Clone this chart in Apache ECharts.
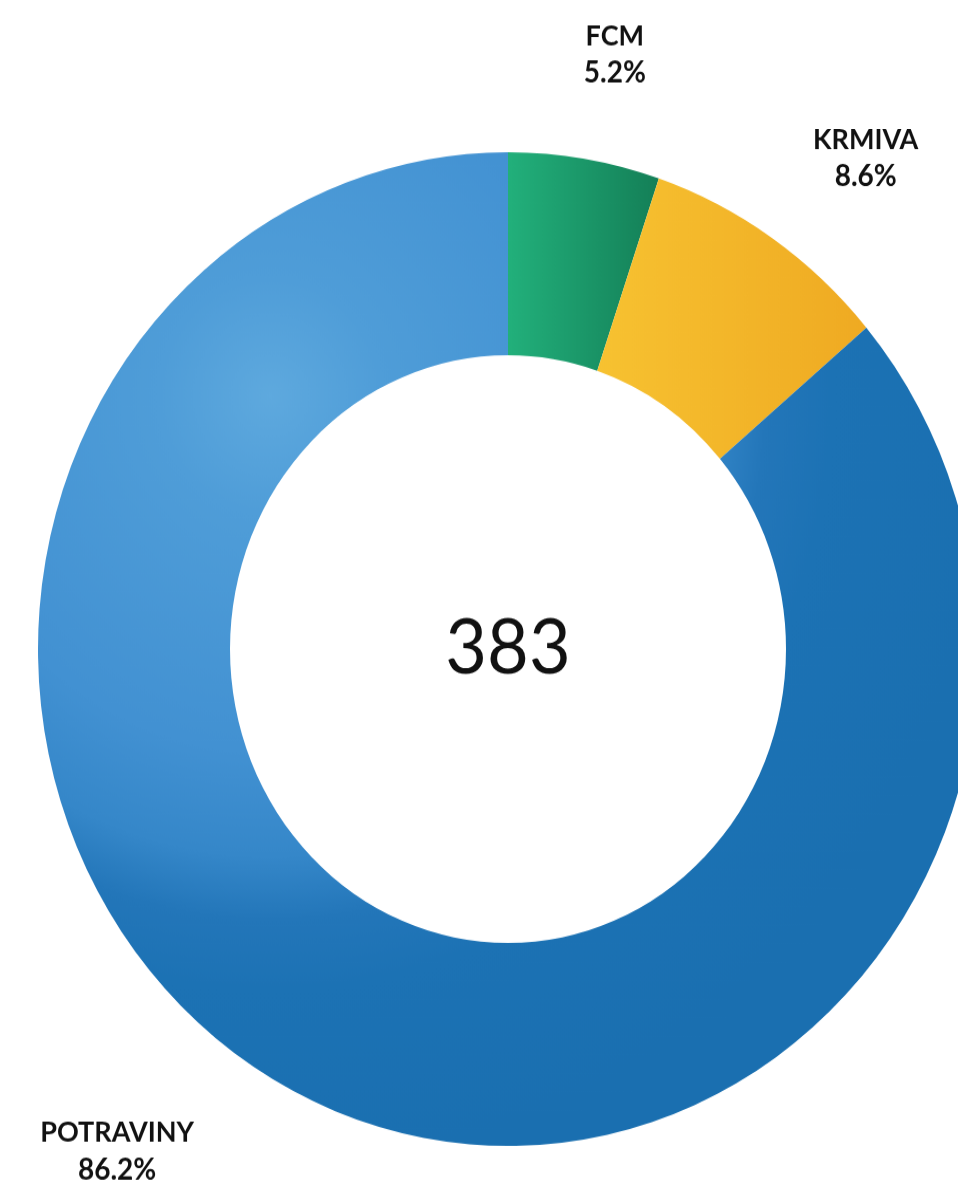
<!DOCTYPE html>
<html>
<head>
<meta charset="utf-8">
<script src="https://cdn.jsdelivr.net/npm/echarts@6/dist/echarts.min.js"></script>
<style>
  html, body { margin: 0; padding: 0; background: #ffffff; width: 958px; height: 1184px; overflow: hidden; }
  #wrap { width: 958px; height: 1184px; overflow: hidden; position: relative; }
  #chart { position: absolute; left: 0; top: 0; width: 958px; height: 1120px; transform: scaleY(1.0571); transform-origin: 0 0; }
</style>
</head>
<body>
<div id="wrap"><div id="chart"></div></div>
<script>
// ---- data ----
const categories = ['FCM', 'KRMIVA', 'POTRAVINY'];
const shares = [5.2, 8.6, 86.2];          // percent of total
const totalCount = 383;

// ---- styles (kept apart from data) ----
const sliceFills = {
  FCM: { type: 'linear', x: 0, y: 0, x2: 1, y2: 0, colorStops: [
    { offset: 0, color: '#22b07b' }, { offset: 1, color: '#147f57' } ] },
  KRMIVA: { type: 'linear', x: 0, y: 0, x2: 1, y2: 0, colorStops: [
    { offset: 0, color: '#f7c231' }, { offset: 1, color: '#efaa22' } ] },
  POTRAVINY: { type: 'radial', x: 0.247, y: 0.245, r: 0.8, colorStops: [
    { offset: 0, color: '#5ea9de' }, { offset: 0.15, color: '#4f9dd8' },
    { offset: 0.45, color: '#4291d2' }, { offset: 0.58, color: '#3587c9' },
    { offset: 0.66, color: '#2376b9' }, { offset: 0.75, color: '#1c72b4' },
    { offset: 1, color: '#1a6fb0' } ] }
};
const labelNudge = { FCM: [12, 13], KRMIVA: [30, 18], POTRAVINY: [-146, -54] };

const chart = echarts.init(document.getElementById('chart'), null, { renderer: 'canvas' });

const ringData = categories.map((c, i) => ({
  name: c, value: shares[i], itemStyle: { color: sliceFills[c] }
}));
const labelData = categories.map((c, i) => ({ name: c, value: shares[i] }));

const labelFont = { fontFamily: 'Lato', fontWeight: 'bold', fontSize: 27, color: '#111111', lineHeight: 35, align: 'center' };

chart.setOption({
  backgroundColor: '#ffffff',
  animation: false,
  series: [
    {
      type: 'pie',
      center: [508, 614],
      radius: [278, 470],
      startAngle: 90,
      clockwise: true,
      silent: true,
      label: { show: false },
      labelLine: { show: false },
      itemStyle: { borderWidth: 0 },
      data: ringData
    },
    {
      type: 'pie',
      center: [508, 614],
      radius: [560, 600],
      startAngle: 90,
      clockwise: true,
      silent: true,
      itemStyle: { color: 'rgba(0,0,0,0)' },
      labelLine: { show: false },
      label: {
        show: true,
        position: 'inside',
        formatter: p => '{n|' + p.name + '}\n{v|' + p.value.toFixed(1) + '%}',
        rich: {
          n: labelFont,
          v: Object.assign({}, labelFont, { fontSize: 28 })
        }
      },
      labelLayout: p => {
        const n = labelNudge[categories[p.dataIndex]];
        return { dx: n[0], dy: n[1] };
      },
      data: labelData
    }
  ],
  graphic: [{
    type: 'text',
    x: 508, y: 614,
    silent: true,
    style: {
      text: String(totalCount),
      fontFamily: 'Lato', fontWeight: 'normal', fontSize: 72,
      fill: '#111111', textAlign: 'center', textVerticalAlign: 'middle'
    }
  }]
});
</script>
</body>
</html>
